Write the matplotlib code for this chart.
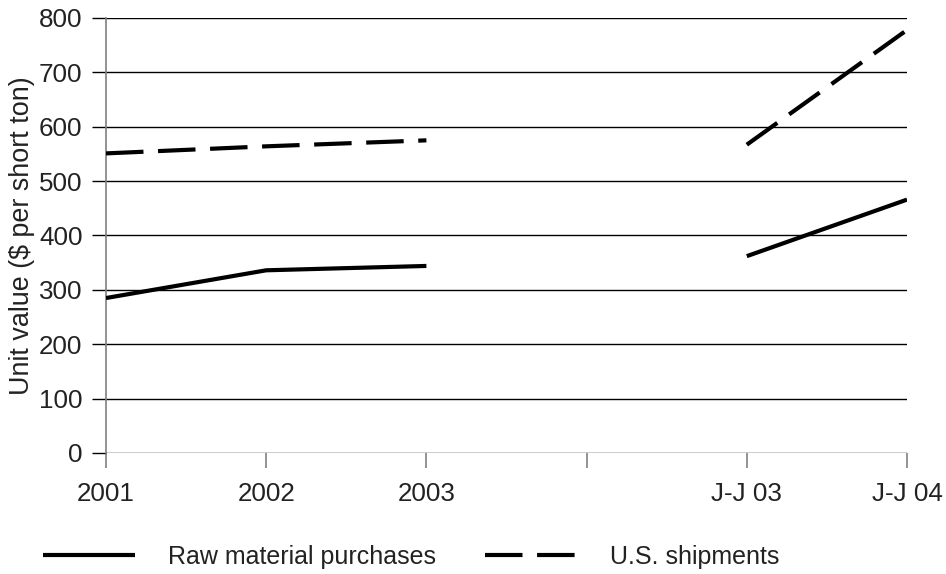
import matplotlib
matplotlib.use("Agg")
import matplotlib.pyplot as plt
import numpy as np

categories = ["2001", "2002", "2003", "", "J-J 03", "J-J 04"]
raw_x = [[0, 1, 2], [4, 5]]
raw_vals = [[285, 336, 344], [362, 466]]
us_vals = [[551, 564, 575], [567, 778]]
yticks = [0, 100, 200, 300, 400, 500, 600, 700, 800]

plt.rcParams['font.family'] = ['Liberation Sans', 'DejaVu Sans']
txt = '#222222'
fs = 18.7

fig = plt.figure(figsize=(9.46, 5.74), dpi=100)
ax = fig.add_axes([106/946, 1-453/574, (907-106)/946, (453-18)/574])

for i, (xs, vs) in enumerate(zip(raw_x, raw_vals)):
    ax.plot(xs, vs, color='black', lw=3, solid_capstyle='butt',
            label='Raw material purchases' if i == 0 else None, zorder=3)
for i, (xs, vs) in enumerate(zip(raw_x, us_vals)):
    ax.plot(xs, vs, color='black', lw=3, dashes=(9, 3.5), dash_capstyle='butt',
            label='U.S. shipments' if i == 0 else None, zorder=3)

ax.set_xlim(0, 5)
ax.set_ylim(0, 800)
ax.set_yticks(yticks)
ax.set_xticks(range(len(categories)))
ax.set_xticklabels(categories)
for y in yticks:
    ax.axhline(y, color='black', lw=1, zorder=1)
for s in ['top', 'right', 'bottom']:
    ax.spines[s].set_visible(False)
ax.spines['left'].set_color('#808080')
ax.spines['left'].set_linewidth(1.2)
ax.tick_params(axis='y', length=10, width=1, color='black', labelsize=fs,
               labelcolor=txt, pad=7)
ax.tick_params(axis='x', length=11, width=1.2, color='#808080', labelsize=fs,
               labelcolor=txt, pad=10)
ax.set_ylabel('Unit value ($ per short ton)', fontsize=19.4, color=txt)
ax.yaxis.set_label_coords((35 - 106) / 801, 0.5)

fig.legend(loc='center', bbox_to_anchor=(0.4345, 1-557/574), ncol=2, frameon=False,
           fontsize=18, handlelength=3.7, handletextpad=1.3, columnspacing=1.95,
           labelcolor=txt)

fig.savefig('out.png', dpi=100)
